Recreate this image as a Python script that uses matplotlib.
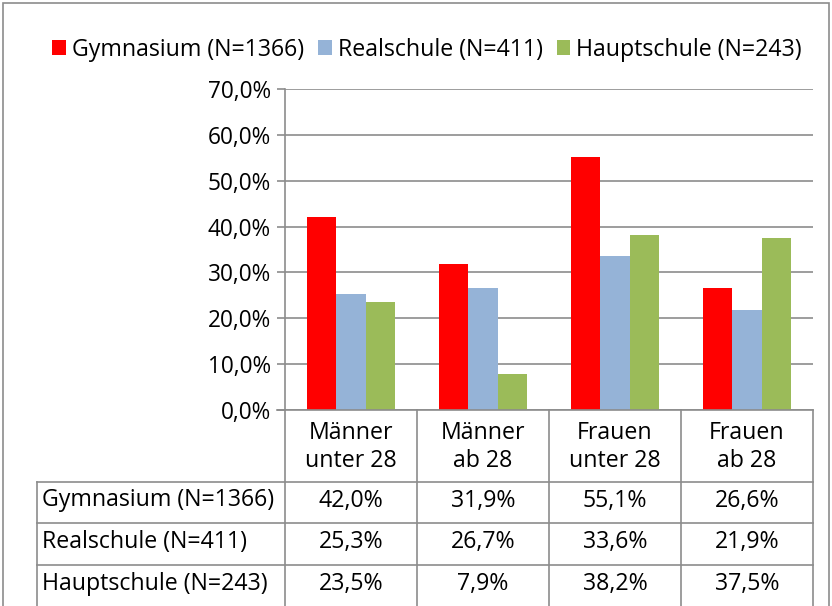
import matplotlib
matplotlib.use("Agg")
import matplotlib.pyplot as plt
from matplotlib.patches import Rectangle
from matplotlib.lines import Line2D
from matplotlib.ticker import FuncFormatter

# daten
kategorien = ["Männer\nunter 28", "Männer\nab 28", "Frauen\nunter 28", "Frauen\nab 28"]
serien = ["Gymnasium (N=1366)", "Realschule (N=411)", "Hauptschule (N=243)"]
gymnasium = [42.0, 31.9, 55.1, 26.6]
realschule = [25.3, 26.7, 33.6, 21.9]
hauptschule = [23.5, 7.9, 38.2, 37.5]
farben = ["#FF0000", "#95B3D7", "#9BBB59"]

plt.rcParams["font.family"] = ["Open Sans", "DejaVu Sans"]
FS = 16.7
GRAU = "#8C8C8C"

W, H = 832, 606
fig = plt.figure(figsize=(W / 100, H / 100), dpi=100)

def fx(px):
    return px / W

def fy(py):
    return 1 - py / H

# rahmen
fig.add_artist(Rectangle((fx(3), fy(640)), fx(826), 637 / H,
                         transform=fig.transFigure, fill=False, edgecolor=GRAU, lw=1.2))

x0, x1, ytop, ybot = 285, 813, 89, 410
ax = fig.add_axes([fx(x0), fy(ybot), fx(x1 - x0), (ybot - ytop) / H])
pos = list(range(len(kategorien)))
breite = 0.22
werte = [gymnasium, realschule, hauptschule]
for i, (name, w) in enumerate(zip(serien, werte)):
    ax.bar([p + (i - 1) * breite for p in pos], [v / 100 for v in w], breite,
           color=farben[i], label=name, zorder=3)
ax.set_xlim(-0.5, len(kategorien) - 0.5)
ax.set_ylim(0, 0.7)
ax.set_yticks([i / 10 for i in range(8)])
ax.yaxis.set_major_formatter(FuncFormatter(lambda v, _: f"{v * 100:.1f}%".replace(".", ",")))
ax.tick_params(axis="y", length=6, width=1.2, color=GRAU, labelsize=16.3, pad=4)
ax.set_xticks([])
ax.grid(axis="y", color=GRAU, lw=1.2, zorder=0)
for s in ["top", "right", "bottom"]:
    ax.spines[s].set_visible(False)
ax.spines["left"].set_color(GRAU)
ax.spines["left"].set_linewidth(1.2)

fig.legend(loc="center", bbox_to_anchor=(fx(427), fy(50)), ncol=3, frameon=False,
           fontsize=FS, handlelength=0.6, handleheight=0.6, handletextpad=0.25,
           columnspacing=0.6, borderpad=0)

# datentabelle
spalten = [285, 417, 549, 681, 813]
zeilen = [482, 523, 565, 607]

def linie(xa, ya, xb, yb):
    fig.add_artist(Line2D([fx(xa), fx(xb)], [fy(ya), fy(yb)], transform=fig.transFigure,
                          color=GRAU, lw=1.2))

linie(277, 410, 813, 410)
for xs in spalten:
    linie(xs, 410, xs, 610)
linie(37, 482, 37, 610)
for ys in zeilen[:-1]:
    linie(37, ys, 813, ys)

for j, kat in enumerate(kategorien):
    xc = (spalten[j] + spalten[j + 1]) / 2
    fig.text(fx(xc), fy(447), kat, ha="center", va="center", fontsize=FS, linespacing=1.22)

for i, (name, w) in enumerate(zip(serien, werte)):
    yc = (zeilen[i] + zeilen[i + 1]) / 2 - 2
    fig.text(fx(42), fy(yc), name, ha="left", va="center", fontsize=FS)
    for j, v in enumerate(w):
        xc = (spalten[j] + spalten[j + 1]) / 2
        fig.text(fx(xc), fy(yc), f"{v:.1f}%".replace(".", ","), ha="center", va="center",
                 fontsize=FS)

fig.savefig("out.png", dpi=100)
